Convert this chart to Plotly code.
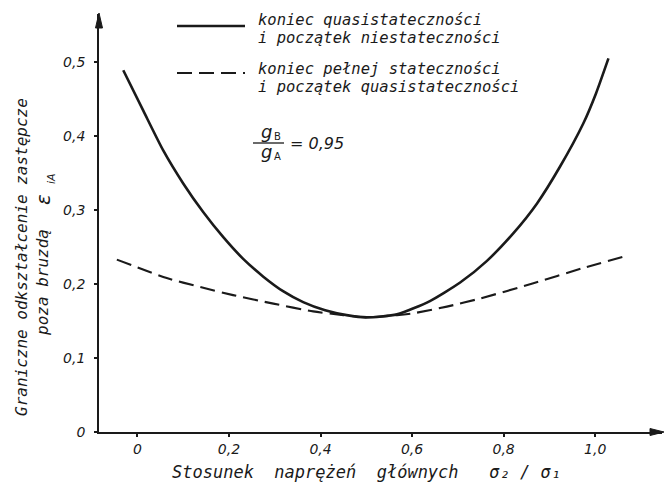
import plotly.graph_objects as go

# Data
x_solid = [-0.031, 0.013, 0.056, 0.100, 0.144, 0.188, 0.231, 0.275, 0.319, 0.362, 0.41, 0.457, 0.501,
           0.567, 0.639, 0.705, 0.763, 0.821, 0.873, 0.923, 0.974, 1.002, 1.029]
y_solid = [0.489, 0.434, 0.381, 0.336, 0.297, 0.263, 0.234, 0.210, 0.190, 0.1755, 0.1645, 0.158, 0.155,
           0.159, 0.177, 0.202, 0.231, 0.2685, 0.309, 0.3585, 0.417, 0.458, 0.505]

x_dash = [-0.045, 0.064, 0.137, 0.209, 0.297, 0.384, 0.45, 0.5, 0.567, 0.603, 0.676, 0.749, 0.865, 0.97, 1.068]
y_dash = [0.233, 0.208, 0.196, 0.185, 0.1735, 0.163, 0.158, 0.155, 0.158, 0.1605, 0.1695, 0.1805, 0.201, 0.221, 0.238]

legend_solid = ["koniec quasistateczności", "i początek niestateczności"]
legend_dash = ["koniec pełnej stateczności", "i początek quasistateczności"]

x_tickvals = [0, 0.2, 0.4, 0.6, 0.8, 1.0]
x_ticktext = ["0", "0,2", "0,4", "0,6", "0,8", "1,0"]
y_tickvals = [0, 0.1, 0.2, 0.3, 0.4, 0.5]
y_ticktext = ["0", "0,1", "0,2", "0,3", "0,4", "0,5"]

x_range = [-0.084, 1.146]
y_range = [0, 0.565]

INK = "#1a1a1a"
FONT = "DejaVu Sans"
MONO = "DejaVu Sans Mono"

W, H = 666, 493
ML, MR, MT, MB = 99, 4, 14, 61
pw, ph = W - ML - MR, H - MT - MB


def px(x):
    return (x - ML) / pw


def py(y):
    return (H - MB - y) / ph


fig = go.Figure()
fig.add_trace(go.Scatter(x=x_solid, y=y_solid, mode="lines", name=" ".join(legend_solid),
                         line=dict(color=INK, width=2.6, shape="spline", smoothing=0.6)))
fig.add_trace(go.Scatter(x=x_dash, y=y_dash, mode="lines", name=" ".join(legend_dash),
                         line=dict(color=INK, width=2.1, dash="15px,7px", shape="spline", smoothing=0.6)))

tickfont = dict(family=FONT, size=14, color=INK, style="italic")

fig.update_xaxes(range=x_range, tickvals=x_tickvals, ticktext=x_ticktext,
                 showgrid=False, zeroline=False, showline=True, linecolor=INK, linewidth=1.8,
                 ticks="outside", ticklen=3, tickcolor=INK, tickwidth=1.5,
                 tickfont=tickfont, ticklabelstandoff=0)
fig.update_yaxes(range=y_range, tickvals=y_tickvals, ticktext=y_ticktext,
                 showgrid=False, zeroline=False, showline=True, linecolor=INK, linewidth=1.8,
                 ticks="outside", ticklen=3, tickcolor=INK, tickwidth=1.5,
                 tickfont=tickfont, ticklabelstandoff=6)


def txt(x, y, s, xanchor="left", size=16, angle=0, family=MONO, italic=True):
    return dict(x=px(x), y=py(y), xref="paper", yref="paper", text=s, showarrow=False,
                xanchor=xanchor, yanchor="middle", textangle=angle,
                font=dict(family=family, size=size, color=INK,
                          style="italic" if italic else "normal"))


annotations = [
    txt(170, 472, "Stosunek  naprężeń  głównych   σ₂ / σ₁", size=17),
    txt(21, 257, "Graniczne odkształcenie zastępcze", xanchor="center", size=16, angle=-90),
    txt(42, 283, "poza bruzdą", xanchor="center", size=16, angle=-90),
    txt(43, 200, "ε", xanchor="center", size=20, angle=-90, family=FONT),
    txt(51, 179, "iA", xanchor="center", size=11, angle=-90, family=FONT),
    txt(266, 131, "g", xanchor="center", size=18, family=FONT),
    txt(277, 136, "B", xanchor="center", size=10, family=FONT, italic=False),
    txt(266, 152, "g", xanchor="center", size=18, family=FONT),
    txt(277, 157, "A", xanchor="center", size=10, family=FONT, italic=False),
    txt(288, 144, "= 0,95", size=16, family=FONT),
    txt(256, 20, legend_solid[0], size=15.5),
    txt(256, 38, legend_solid[1], size=15.5),
    txt(256, 69, legend_dash[0], size=15.5),
    txt(256, 87, legend_dash[1], size=15.5),
]

shapes = [
    # fraction bar
    dict(type="line", xref="paper", yref="paper", x0=px(253), x1=px(284), y0=py(143), y1=py(143),
         line=dict(color=INK, width=1.3)),
    # legend keys
    dict(type="line", xref="paper", yref="paper", x0=px(177), x1=px(245), y0=py(26), y1=py(26),
         line=dict(color=INK, width=2.6)),
    dict(type="line", xref="paper", yref="paper", x0=px(177), x1=px(245), y0=py(73), y1=py(73),
         line=dict(color=INK, width=2.1, dash="15px,7px")),
    # axis arrowheads
    dict(type="path", xref="paper", yref="paper",
         path=f"M {px(95.5)},{py(28)} L {px(99)},{py(13)} L {px(102.5)},{py(28)} Z",
         fillcolor=INK, line=dict(color=INK, width=1)),
    dict(type="path", xref="paper", yref="paper",
         path=f"M {px(650)},{py(428.5)} L {px(664)},{py(432)} L {px(650)},{py(435.5)} Z",
         fillcolor=INK, line=dict(color=INK, width=1)),
]

fig.update_layout(
    width=W, height=H,
    margin=dict(l=ML, r=MR, t=MT, b=MB),
    paper_bgcolor="white", plot_bgcolor="white",
    showlegend=False,
    annotations=annotations,
    shapes=shapes,
)

fig.write_html("out.html")
